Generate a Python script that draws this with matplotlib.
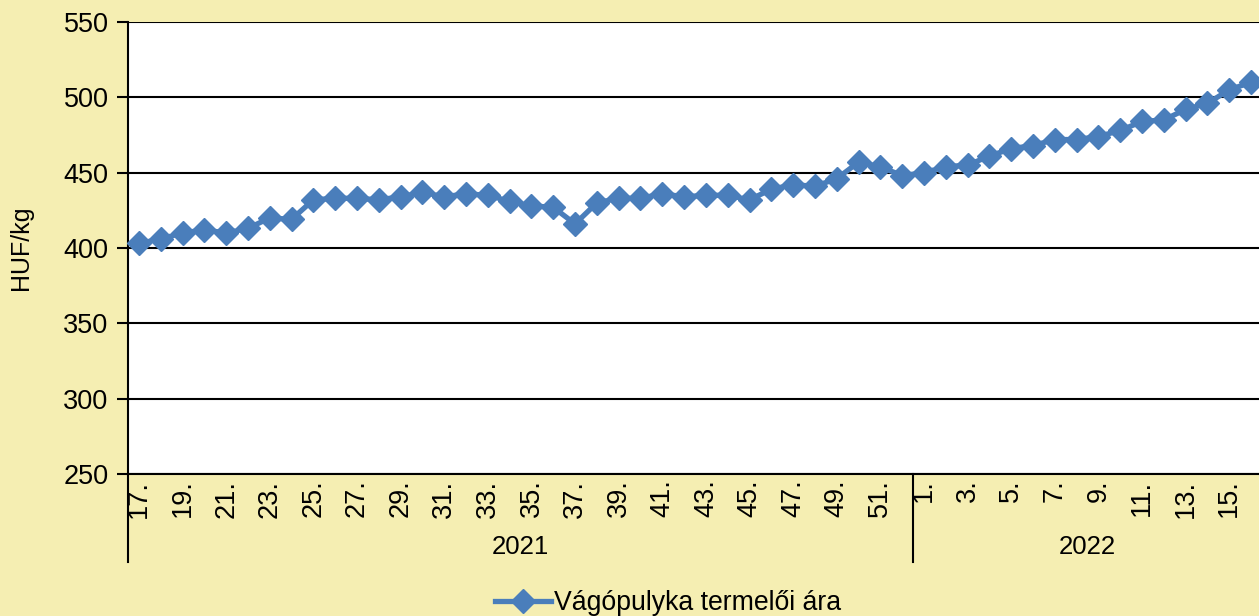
import numpy as np
import matplotlib
matplotlib.use('Agg')
import matplotlib.pyplot as plt
import matplotlib.transforms as mtransforms

plt.rcParams['font.family'] = ['Liberation Sans', 'DejaVu Sans']

weeks_2021 = list(range(17, 53))
weeks_2022 = list(range(1, 17))
prices_2021 = [403, 406, 410, 412, 410, 413, 420, 419, 432, 433,
               433, 432, 434, 437, 434, 436, 435, 431, 428, 427,
               416, 430, 433, 433, 436, 434, 435, 435, 432, 439,
               442, 441, 446, 457, 454, 448]
prices_2022 = [450, 454, 455, 461, 466, 468, 472, 472, 474, 478,
               484, 485, 492, 496, 505, 510]
years = ['2021', '2022']
series_name = 'Vágópulyka termelői ára'

labels = ['%d.' % w for w in weeks_2021] + ['%d.' % w for w in weeks_2022]
values = prices_2021 + prices_2022
x = np.arange(len(values))

bg = '#F5EEB2'
blue = '#4A7EBB'

fig = plt.figure(figsize=(12.59, 6.16), dpi=100, facecolor=bg)
ax = fig.add_axes([128/1259, 142/616, 1134/1259, 452/616])
ax.set_facecolor('white')

ax.plot(x, values, color=blue, lw=3.8, marker='D', ms=12, mec=blue,
        label=series_name, clip_on=False, zorder=3)

ax.set_xlim(-0.5, len(values) - 0.5)
ax.set_ylim(250, 550)
ax.set_yticks(np.arange(250, 551, 50))
ax.grid(axis='y', color='black', lw=1.5)
ax.set_axisbelow(True)

ax.set_xticks(x[::2])
ax.set_xticklabels(labels[::2], rotation=90)
ax.tick_params(axis='x', length=0, pad=4, labelsize=19.5)
ax.tick_params(axis='y', length=8, width=1.5, direction='out', labelsize=19.5, pad=6)

for s in ['top', 'right']:
    ax.spines[s].set_visible(False)
ax.spines['left'].set_linewidth(1.5)
ax.spines['bottom'].set_linewidth(1.5)

ax.set_ylabel('HUF/kg', fontsize=18, labelpad=22)

# year groups under the week labels
trans = mtransforms.blended_transform_factory(ax.transData, ax.transAxes)
n21 = len(weeks_2021)
for xs in [-0.5, n21 - 0.5]:
    ax.plot([xs, xs], [0, -0.195], color='black', lw=1.5,
            transform=trans, clip_on=False)
ax.text((n21 - 1) / 2, -0.162, years[0], transform=trans, ha='center',
        va='center', fontsize=18.5)
ax.text(n21 + (len(weeks_2022) - 1) / 2, -0.162, years[1], transform=trans,
        ha='center', va='center', fontsize=18.5)

fig.legend(loc='center', bbox_to_anchor=(668/1259, 13/616), frameon=False,
           fontsize=19.2, handlelength=2.1, handletextpad=0.1)

fig.savefig('out.png', dpi=100, facecolor=bg)
